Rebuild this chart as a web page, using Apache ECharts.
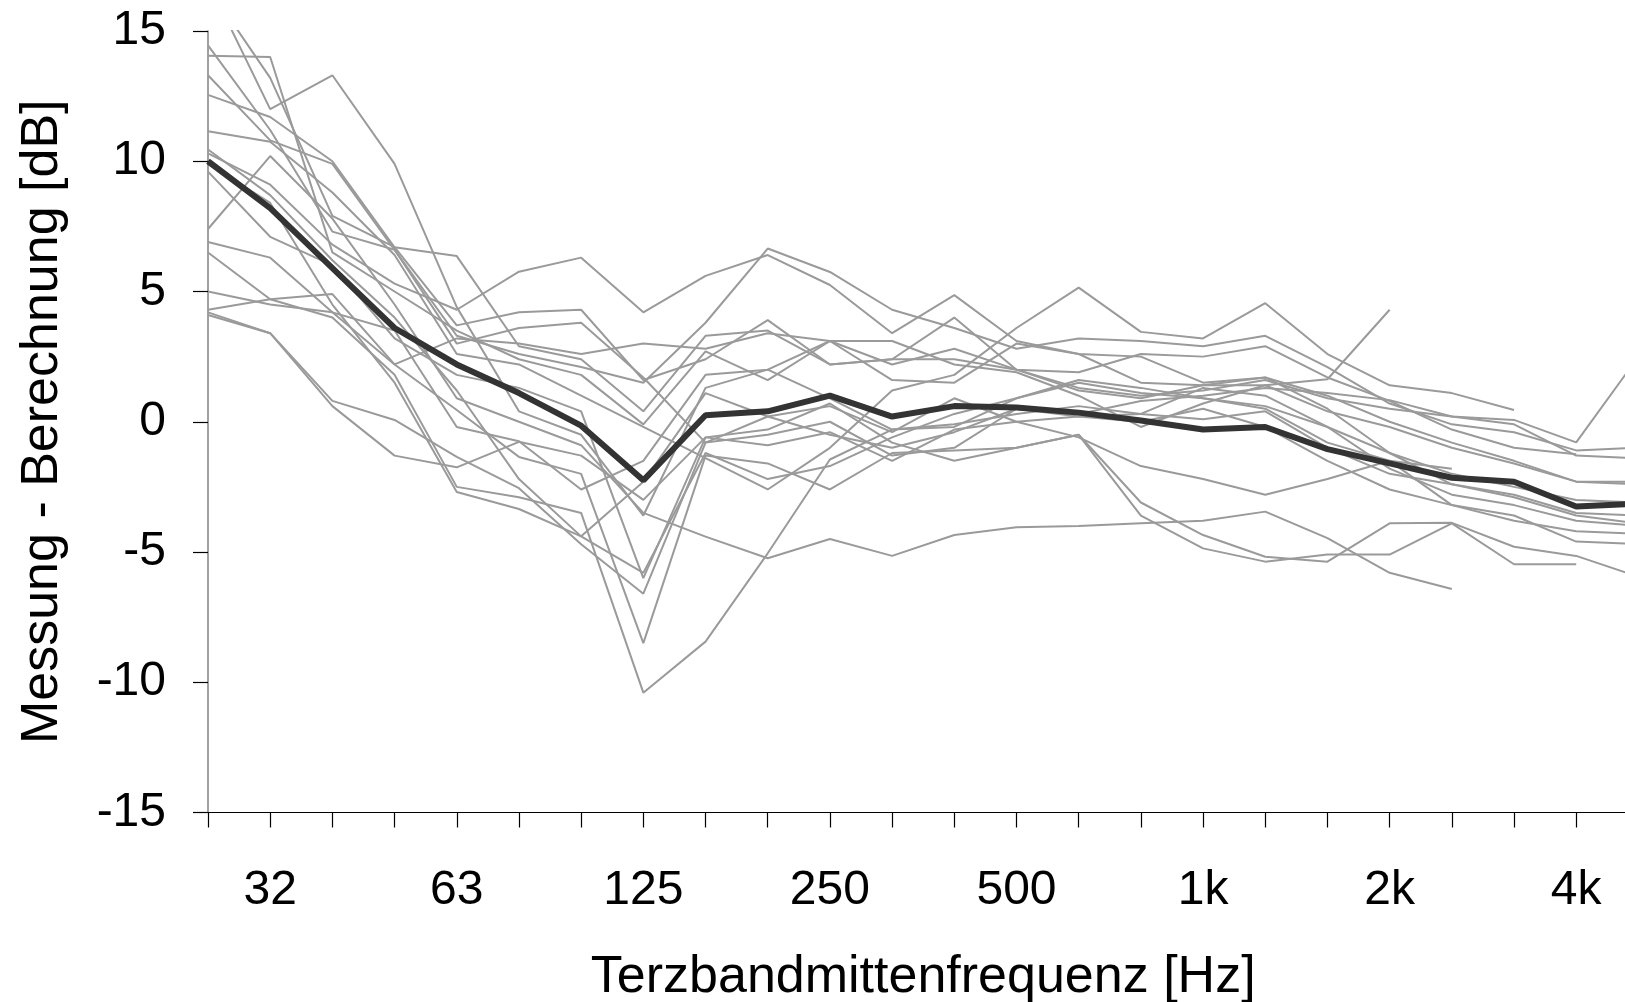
<!DOCTYPE html>
<html>
<head>
<meta charset="utf-8">
<script src="https://cdn.jsdelivr.net/npm/echarts@6/dist/echarts.min.js"></script>
<style>
html,body{margin:0;padding:0;background:#fff;}
#chart{width:1625px;height:1002px;}
</style>
</head>
<body>
<div id="chart"></div>
<script>
// Third-octave band centre frequencies (categories)
const bands = ['25','31.5','40','50','63','80','100','125','160','200','250','315','400','500','630','800','1k','1.25k','1.6k','2k','2.5k','3.15k','4k','5k'];
// Tick labels shown on the x axis
const tickLabels = {'31.5':'32','63':'63','125':'125','250':'250','500':'500','1k':'1k','2k':'2k','4k':'4k'};
const yTicks = [-15,-10,-5,0,5,10,15];

// Mean curve
const mean = [10.0, 8.2, 5.9, 3.6, 2.2, 1.1, -0.15, -2.25, 0.25, 0.4, 1.0, 0.2, 0.6, 0.55, 0.35, 0.05, -0.3, -0.2, -1.05, -1.6, -2.15, -2.3, -3.25, -3.15];

// Individual measurements
const g01 = [16.9, 12.0, 13.3, 9.9, 4.4, 0.4, -0.5, -3.6, 1.3, 2.0, 0.9, -0.3, -0.2, 0.9, 1.6, 1.3, 0.9, 0.6, -0.2, -1.2, -2.4, -2.9, -3.6, -3.9];
const g02 = [16.7, 13.2, 7.9, 6.7, 6.36, 2.9, 2.4, 0.4, 3.3, 3.5, 2.2, 2.4, 2.4, 2.0, 1.9, 2.6, 2.5, 2.9, 1.7, 0.8, -0.3, -1.0, -1.25, null];
const g03 = [14.05, 14.0, 6.5, 5.0, 3.5, 2.4, 1.8, -0.1, 2.7, 1.6, 3.1, 1.6, 1.5, 3.0, 2.6, 2.5, 1.5, 1.7, 0.5, -1.2, -2.0, -2.5, -3.0, -3.1];
const g04 = [14.45, 11.2, 7.3, 6.6, 3.3, 2.6, 2.1, 1.5, 3.8, 6.65, 5.75, 4.3, 3.6, 2.8, 3.2, 3.1, 2.9, 3.3, 2.1, 0.7, -0.1, -0.4, -1.1, -1.0];
const g05 = [13.3, 10.8, 9.9, 6.6, 3.0, 3.6, 3.8, 1.7, -0.8, -0.5, 0.0, -1.3, -1.0, 0.5, 0.2, 0.3, 1.3, 1.0, -0.2, -1.8, -2.8, -3.2, -3.8, -4.0];
const g06 = [12.55, 11.7, 10.0, 6.7, 3.7, 4.2, 4.3, 1.6, 2.4, 3.9, 2.2, 2.4, 4.0, 2.0, 1.3, 1.0, 1.2, 1.6, 0.9, 0.5, 0.2, -0.1, -1.3, -1.4];
const g07 = [11.15, 10.75, 8.8, 6.4, 2.6, 2.2, 1.0, -0.2, -1.4, -2.6, -1.0, 1.2, 1.8, 3.6, 5.15, 3.45, 3.2, 4.55, 2.6, 1.4, 1.1, 0.45, null, null];
const g08 = [10.45, 8.7, 6.2, 4.0, 1.2, -2.2, -4.4, -5.8, -1.2, -2.2, -1.7, -0.6, 0.3, 0.9, 1.5, 1.1, 0.9, 0.5, -0.8, -1.5, -1.8, null, null, null];
const g09 = [9.6, 7.1, 6.0, 3.2, 1.8, 1.3, 0.4, -6.0, -0.6, -0.9, -0.4, -1.5, -0.3, 0.0, 0.2, 0.0, 0.5, -0.2, -1.5, -2.6, -3.2, -3.6, -4.6, -4.7];
const g10 = [7.4, 10.2, 7.8, 4.5, 0.9, 0.0, -0.9, -3.5, -4.41, -5.24, -4.5, -5.15, -4.35, -4.05, -4.0, -3.9, -3.8, -3.45, -4.47, -5.8, -6.42, null, null, null];
const g11 = [6.9, 6.3, 4.2, 3.5, -0.2, -0.75, -2.6, -1.5, 1.8, 2.0, 3.1, 2.2, 2.8, 2.0, 1.2, 0.9, 1.4, 1.7, 1.0, 0.0, -0.8, -1.5, -2.3, -2.3];
const g12 = [6.5, 4.7, 4.0, 1.8, -2.5, -2.9, -3.5, -10.4, -8.44, -5.05, -1.45, -0.3, -0.1, 0.3, 0.6, 0.3, 0.1, 0.4, -1.0, -2.0, -2.4, -2.8, -3.5, -3.6];
const g13 = [5.0, 4.5, 4.2, 2.2, 3.2, 3.0, 2.6, 3.0, 2.8, 3.4, 3.1, 3.1, 2.2, 1.9, 1.0, -0.2, 0.7, 1.4, 0.4, -0.2, -1.0, -1.6, -2.3, -2.4];
const g14 = [4.3, 4.7, 4.9, 2.2, 0.45, -1.35, -2.0, -8.5, -1.3, -1.6, -2.6, -1.2, -1.1, -1.0, -0.5, -3.1, -4.35, -5.18, -5.37, -3.9, -3.88, -4.8, -5.15, -5.95];
const g15 = [4.1, 3.4, 0.6, -1.3, -1.75, -0.77, -1.3, -3.0, -0.6, -0.3, 0.7, -0.8, -1.5, -1.0, -0.5, -3.6, -4.86, -5.37, -5.1, -5.1, -3.9, -5.47, -5.47, null];
const g16 = [4.2, 3.4, 0.8, 0.07, -1.35, -2.55, -4.7, -6.6, -0.8, 0.2, -0.5, -1.0, -0.4, 0.5, 0.3, 0.8, 1.0, 1.3, 1.1, 0.83, 0.2, 0.07, -0.79, 2.5];
const g17 = [9.9, 8.4, 4.5, 1.5, -2.7, -3.35, -4.4, -2.3, 1.1, 0.2, 0.6, -0.4, 0.9, 0.0, -0.6, -1.7, -2.2, -2.8, -2.2, -1.5, -3.2, -3.8, -4.2, -4.3];
const g18 = [10.3, 9.1, 6.8, 5.3, 4.3, 5.76, 6.3, 4.2, 5.6, 6.4, 5.25, 3.4, 4.86, 3.1, 2.6, 1.5, 1.4, 1.4, 1.63, 4.3, null, null, null, null];

const greyLines = [g01,g02,g03,g04,g05,g06,g07,g08,g09,g10,g11,g12,g13,g14,g15,g16,g17,g18];

const FONT = '"Liberation Sans", Arial, Helvetica, sans-serif';
const chart = echarts.init(document.getElementById('chart'), null, {renderer: 'canvas'});

const series = greyLines.map((d, i) => ({
  name: 'm' + (i + 1),
  type: 'line',
  data: d,
  symbol: 'none',
  connectNulls: false,
  lineStyle: {color: '#9a9a9a', width: 2},
  z: 2,
  silent: true
}));
series.push({
  name: 'Mittelwert',
  type: 'line',
  data: mean,
  symbol: 'none',
  lineStyle: {color: '#333333', width: 6},
  z: 3,
  silent: true
});

chart.setOption({
  animation: false,
  backgroundColor: '#ffffff',
  grid: {left: 208, top: 31, right: -13.4, bottom: 189.5, containLabel: false, outerBoundsMode: 'none'},
  xAxis: {
    type: 'category',
    data: bands,
    boundaryGap: false,
    name: 'Terzbandmittenfrequenz [Hz]',
    nameLocation: 'middle',
    nameGap: 139,
    nameTextStyle: {fontFamily: FONT, fontSize: 52, color: '#000'},
    axisLine: {onZero: false, lineStyle: {color: '#000', width: 1.2}},
    axisTick: {show: true, interval: 0, length: 15, inside: false, lineStyle: {color: '#000', width: 1.2}},
    axisLabel: {
      interval: 0,
      margin: 54,
      fontFamily: FONT, fontSize: 48, color: '#000',
      formatter: v => tickLabels[v] || ''
    },
    splitLine: {show: false}
  },
  yAxis: {
    type: 'value',
    min: yTicks[0], max: yTicks[yTicks.length - 1], interval: 5,
    name: 'Messung - Berechnung [dB]',
    nameLocation: 'middle',
    nameGap: 139,
    nameTextStyle: {fontFamily: FONT, fontSize: 52, color: '#000'},
    axisLine: {show: true, lineStyle: {color: '#808080', width: 1.5}},
    axisTick: {show: true, length: 15, lineStyle: {color: '#000', width: 1.2}},
    axisLabel: {margin: 42, fontFamily: FONT, fontSize: 48, color: '#000'},
    splitLine: {show: false}
  },
  series: series
});
</script>
</body>
</html>
